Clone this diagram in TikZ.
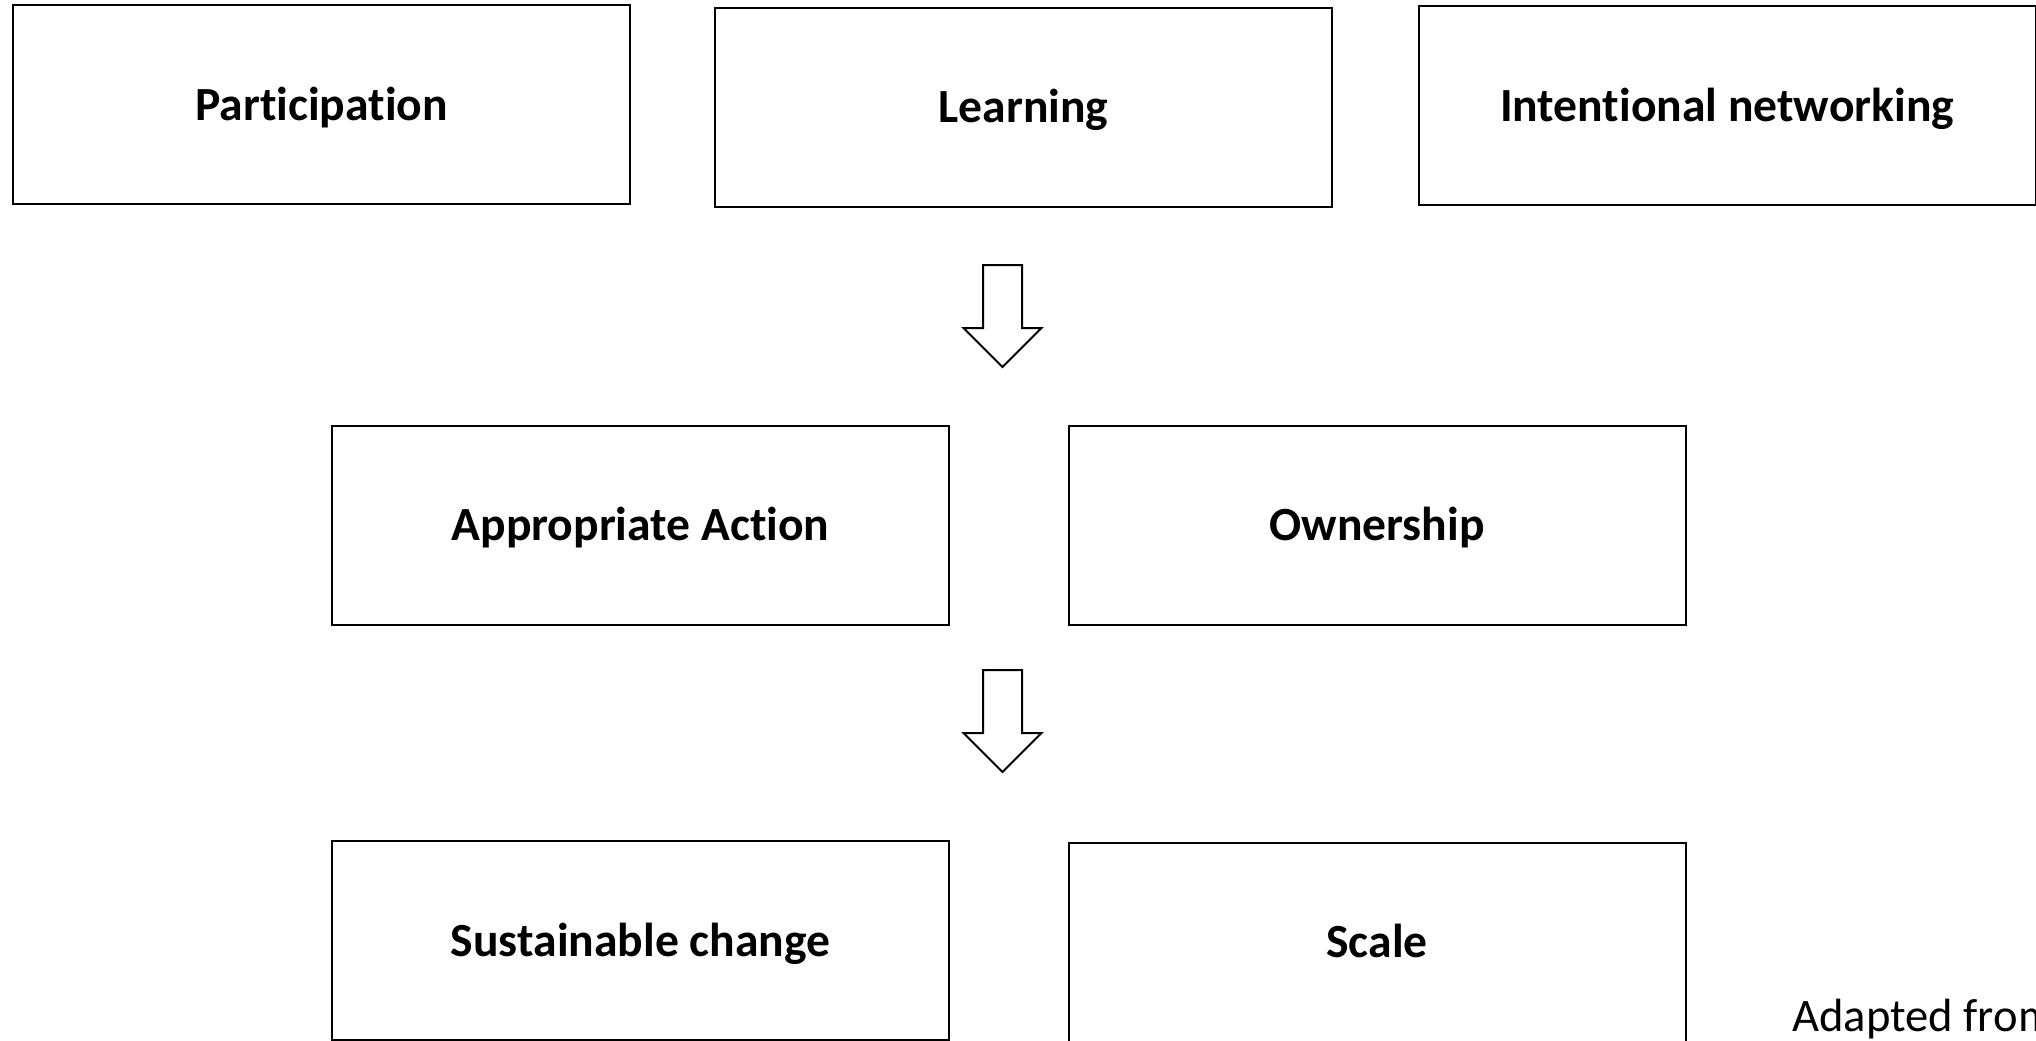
\documentclass[tikz,border=0pt]{standalone}
\usepackage{fontspec}
\setmainfont[Ligatures=NoCommon]{Carlito}
\usetikzlibrary{positioning}

\begin{document}
\begin{tikzpicture}[x=0.5pt, y=0.5pt,
    stage/.style={draw=black, line width=1pt, fill=white, anchor=center, minimum width=308.5pt, minimum height=99.5pt, text height=15.5pt, text depth=0pt, font=\fontsize{23.8}{28}\selectfont\bfseries},
    blockarrow/.style={draw=black, line width=1pt, fill=white, line join=miter}]
        \useasboundingbox (0,0) rectangle (2036,-1040);
        \clip (0,0) rectangle (2036,-1040);
        % first row
        \node[stage] (participation) at (321.5,-104.5) {Participation};
        \node[stage] (learning) at (1023.5,-107) {Learning};
        \node[stage] (networking) at (1727,-105.5) {Intentional networking};
        % second row
        \node[stage] (action) at (640.5,-525) {Appropriate Action};
        \node[stage] (ownership) at (1377,-525) {Ownership};
        % third row
        \node[stage] (change) at (640.5,-940.5) {Sustainable change};
        \node[stage] (scale) at (1377,-942) {Scale};
        % block arrows between rows
        \foreach \top in {265,670}
            \draw[blockarrow] (983,-\top) -- ++(39,0) -- ++(0,-63) -- ++(19.5,0) -- ++(-39,-39) -- ++(-39,39) -- ++(19.5,0) -- cycle;
        \node[anchor=base west, inner sep=0pt, font=\fontsize{23.3}{28}\selectfont] (source) at (1792,-1031) {Adapted from};
    \end{tikzpicture}
\end{document}
